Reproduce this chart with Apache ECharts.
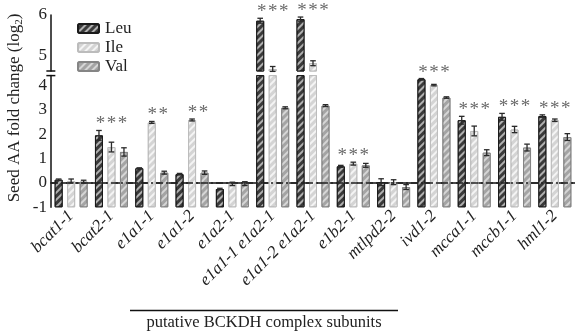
<!DOCTYPE html>
<html><head><meta charset="utf-8">
<script src="https://cdn.jsdelivr.net/npm/echarts@6/dist/echarts.min.js"></script>
<style>html,body{margin:0;padding:0;background:#fff}#c{width:575px;height:331px}</style>
</head><body><div id="c"></div>
<script>
// ---- data ----
const categories = ['bcat1-1','bcat2-1','e1a1-1','e1a1-2','e1a2-1','e1a1-1 e1a2-1','e1a1-2 e1a2-1','e1b2-1','mtlpd2-2','ivd1-2','mcca1-1','mccb1-1','hml1-2'];
const seriesNames = ['Leu','Ile','Val'];
const leu    = [0.13, 1.95, 0.60, 0.36, -0.25, 5.86, 5.90, 0.68, 0.03, 4.25, 2.57, 2.71, 2.74];
const leuErr = [0.03, 0.20, 0.02, 0.03, 0.03, 0.06, 0.05, 0.04, 0.14, 0.03, 0.16, 0.14, 0.05];
const ile    = [0.08, 1.47, 2.48, 2.58, -0.04, 4.68, 4.82, 0.79, 0.03, 4.01, 2.13, 2.19, 2.57];
const ileErr = [0.08, 0.20, 0.04, 0.04, 0.07, 0.06, 0.06, 0.06, 0.10, 0.03, 0.20, 0.13, 0.05];
const val    = [0.05, 1.27, 0.42, 0.42, -0.03, 3.08, 3.17, 0.72, -0.17, 3.50, 1.24, 1.45, 1.88];
const valErr = [0.06, 0.17, 0.06, 0.07, 0.08, 0.04, 0.04, 0.08, 0.10, 0.03, 0.12, 0.14, 0.14];
const stars  = ['', '***', '**', '**', '', '***', '***', '***', '', '***', '***', '***', '***'];
const lowerTicks = [-1, 0, 1, 2, 3, 4];
const lowerMinorTicks = [-0.5, 0.5, 1.5, 2.5, 3.5];
const upperTicks = [5, 6];
const upperMinorTicks = [5.5];
const xTitle = 'putative BCKDH complex subunits';
const yTitle = 'Seed AA fold change (log{s|2})';

// ---- style ----
const F = 'Liberation Serif';
const fills = ['#3a3a3a', '#d4d4d4', '#a4a4a4'];
const borders = ['#1a1a1a', '#bcbcbc', '#858585'];
const stripes = ['rgba(255,255,255,0.6)', 'rgba(255,255,255,0.75)', 'rgba(255,255,255,0.55)'];
const LOW = {min: -1, max: 4.4};
const UP = {min: 4.63, max: 6};
const BW = 8, GAP = 4.5;

const values = [leu, ile, val];
const errs = [leuErr, ileErr, valErr];

const chart = echarts.init(document.getElementById('c'), null, {renderer: 'canvas'});

function barSeries(gridIdx, yIdx) {
  return seriesNames.map((n, k) => ({
    type: 'bar', name: n, xAxisIndex: gridIdx, yAxisIndex: yIdx,
    data: values[k], barWidth: BW, barGap: (GAP / BW * 100) + '%',
    clip: true,
    itemStyle: {
      color: fills[k], borderColor: borders[k], borderWidth: 1,
      decal: {symbol: 'rect', symbolSize: 1, dashArrayX: [1, 0], dashArrayY: [1.6, 2.6],
              rotation: -Math.PI / 4, color: stripes[k]}
    },
    emphasis: {disabled: true}, z: 2
  }));
}

function errData(range) {
  const out = [];
  categories.forEach((c, i) => {
    for (let k = 0; k < 3; k++) {
      const v = values[k][i];
      if (v >= range.min && v <= range.max) out.push([i, k, v, errs[k][i]]);
    }
  });
  return out;
}
function errRender(params, api) {
  const cat = api.value(0), k = api.value(1), v = api.value(2), e = api.value(3);
  const x = api.coord([cat, v])[0] + (k - 1) * (BW + GAP);
  const y1 = api.coord([cat, v + e])[1];
  const y2 = api.coord([cat, v - e])[1];
  const st = {stroke: '#2a2a2a', lineWidth: 1.3};
  return {type: 'group', children: [
    {type: 'line', shape: {x1: x, y1: y1, x2: x, y2: y2}, style: st},
    {type: 'line', shape: {x1: x - 2.8, y1: y1, x2: x + 2.8, y2: y1}, style: st},
    {type: 'line', shape: {x1: x - 2.8, y1: y2, x2: x + 2.8, y2: y2}, style: st}
  ]};
}
function starData(range) {
  const out = [];
  categories.forEach((c, i) => {
    if (!stars[i]) return;
    let top = -Infinity;
    for (let k = 0; k < 3; k++) top = Math.max(top, values[k][i] + errs[k][i]);
    if (top >= range.min && top <= range.max) out.push([i, top]);
  });
  return out;
}
function starRender(params, api) {
  const cat = api.value(0), top = api.value(1);
  const s = stars[cat];
  const p = api.coord([cat, top]);
  const dx = s.length === 2 ? 6 : 0;
  const n = s.length, sp = 11;
  const children = [];
  for (let j = 0; j < n; j++) {
    children.push({type: 'text', x: p[0] + dx + (j - (n - 1) / 2) * sp, y: p[1] - 6, style: {
      text: '*', fontFamily: F, fontSize: 19, fill: '#6a6a6a',
      align: 'center', verticalAlign: 'middle'}});
  }
  return {type: 'group', children: children};
}

const yBase = {
  type: 'value', splitLine: {show: false},
  axisLine: {show: true, lineStyle: {color: '#111', width: 1.5}},
};
const labelStyle = {fontFamily: F, fontSize: 17, color: '#222', margin: 4};

const option = {
  animation: false,
  backgroundColor: '#fff',
  grid: [
    {left: 51, right: -3.5, top: 15, height: 56},
    {left: 51, right: -3.5, top: 75.6, bottom: 123.7}
  ],
  legend: {
    orient: 'vertical', left: 72, top: 15, itemWidth: 21, itemHeight: 9, itemGap: 2,
    data: seriesNames, selectedMode: false,
    textStyle: {fontFamily: F, fontSize: 17, color: '#222', padding: [0, 0, 0, 1], lineHeight: 16}
  },
  xAxis: [
    {type: 'category', gridIndex: 0, data: categories, show: false},
    {type: 'category', gridIndex: 1, data: categories,
     axisLine: {lineStyle: {color: '#111', width: 1.5}},
     axisTick: {alignWithLabel: true, length: 5, lineStyle: {color: '#111', width: 1.5}},
     axisLabel: {rotate: 45, interval: 0, fontFamily: F, fontStyle: 'italic', fontSize: 17, color: '#222', margin: 6}}
  ],
  yAxis: [
    Object.assign({}, yBase, {gridIndex: 0, min: UP.min, max: UP.max,
      axisTick: {customValues: upperTicks, length: 4, lineStyle: {color: '#111', width: 1.5}},
      axisLabel: Object.assign({customValues: upperTicks}, labelStyle)}),
    {type: 'value', gridIndex: 0, min: UP.min, max: UP.max, splitLine: {show: false},
      axisLine: {show: false}, axisLabel: {show: false},
      axisTick: {customValues: upperMinorTicks, length: 2.5, lineStyle: {color: '#111', width: 1.2}}},
    Object.assign({}, yBase, {gridIndex: 1, min: LOW.min, max: LOW.max, startValue: LOW.min,
      axisTick: {customValues: lowerTicks, length: 4, lineStyle: {color: '#111', width: 1.5}},
      axisLabel: Object.assign({customValues: lowerTicks}, labelStyle)}),
    {type: 'value', gridIndex: 1, min: LOW.min, max: LOW.max, splitLine: {show: false},
      axisLine: {show: false}, axisLabel: {show: false},
      axisTick: {customValues: lowerMinorTicks, length: 2.5, lineStyle: {color: '#111', width: 1.2}}}
  ],
  series: [].concat(
    barSeries(0, 0),
    barSeries(1, 2),
    [
      {type: 'custom', xAxisIndex: 0, yAxisIndex: 0, data: errData(UP), renderItem: errRender, z: 5, silent: true},
      {type: 'custom', xAxisIndex: 1, yAxisIndex: 2, data: errData(LOW), renderItem: errRender, z: 5, silent: true},
      {type: 'custom', xAxisIndex: 0, yAxisIndex: 0, data: starData(UP), renderItem: starRender, z: 5, silent: true},
      {type: 'custom', xAxisIndex: 1, yAxisIndex: 2, data: starData(LOW), renderItem: starRender, z: 5, silent: true},
      {type: 'line', xAxisIndex: 1, yAxisIndex: 2, data: [], z: 6,
       markLine: {silent: true, symbol: 'none', label: {show: false},
         lineStyle: {color: '#222', width: 1.5, type: [7, 3, 2, 3]}, data: [{yAxis: 0}]}}
    ]
  )
};
chart.setOption(option);

const yBreakTop = chart.convertToPixel({yAxisIndex: 0}, UP.min);
const yBreakBot = chart.convertToPixel({yAxisIndex: 2}, LOW.max);
const axisX = chart.convertToPixel({xAxisIndex: 1}, 0) - 20.3;
chart.setOption({
  graphic: [
    {type: 'line', shape: {x1: axisX - 4.5, y1: yBreakTop, x2: axisX + 4.5, y2: yBreakTop}, style: {stroke: '#111', lineWidth: 1.5}},
    {type: 'line', shape: {x1: axisX - 4.5, y1: yBreakBot, x2: axisX + 4.5, y2: yBreakBot}, style: {stroke: '#111', lineWidth: 1.5}},
    {type: 'line', shape: {x1: 130, y1: 310.5, x2: 398, y2: 310.5}, style: {stroke: '#111', lineWidth: 1.5}},
    {type: 'text', x: 264, y: 323, style: {text: xTitle, fontFamily: F, fontSize: 16.5, fill: '#222', align: 'center', verticalAlign: 'middle'}},
    {type: 'text', x: 15, y: 108, rotation: Math.PI / 2, style: {text: yTitle, fontFamily: F, fontSize: 17, fill: '#222', align: 'center', verticalAlign: 'middle',
      rich: {s: {fontFamily: F, fontSize: 11, fill: '#222', padding: [8, 0, 0, 0]}}}}
  ]
});
</script></body></html>
